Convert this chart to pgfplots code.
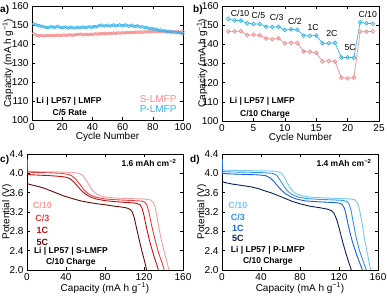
\documentclass[border=0pt]{standalone}
\usepackage{pgfplots}
\pgfplotsset{compat=1.18}
\usepackage{fontspec}
\setmainfont{Liberation Sans}
\definecolor{pinkc}{RGB}{245,140,140}
\definecolor{bluec}{RGB}{55,180,235}
\definecolor{cA}{RGB}{250,155,155}
\definecolor{cB}{RGB}{240,60,60}
\definecolor{cC}{RGB}{205,10,10}
\definecolor{cD}{RGB}{105,8,8}
\definecolor{dA}{RGB}{115,200,250}
\definecolor{dB}{RGB}{45,150,240}
\definecolor{dC}{RGB}{20,95,220}
\definecolor{dD}{RGB}{10,30,95}
\newcommand{\fl}{\fontsize{10}{12}\selectfont}
\newcommand{\fr}{\fontsize{8.7}{10}\selectfont}
\newcommand{\fb}{\bfseries\fontsize{8.5}{10}\selectfont}
\pgfplotsset{
  every axis/.append style={
    scale only axis,
    tick align=inside,
    major tick length=3pt,
    axis line style={line width=0.7pt},
    every tick/.style={black, line width=0.6pt},
    tick label style={font=\fl},
    label style={font=\fl},
    /pgf/number format/assume math mode=true,
    clip=true,
  },
}
\begin{document}
\begin{tikzpicture}
\path[use as bounding box] (0,0) rectangle (387pt,295pt);
% ---------------- panel a
\begin{axis}[at={(32pt,175pt)}, anchor=south west, width=151pt, height=114pt,
  xmin=0, xmax=100, ymin=100, ymax=160,
  xtick={0,20,...,100}, ytick={100,110,...,160},
  xlabel={Cycle Number}, ylabel={Capacity (mA h g\textsuperscript{−1})},
  xlabel style={at={(axis description cs:0.5,-0.15)}, anchor=center},
  ylabel style={at={(axis description cs:-0.16,0.5)}, anchor=center},
]
\addplot[only marks, mark=o, mark size=1.4pt, color=pinkc, line width=0.5pt] coordinates {
(1,145.6)(2,145.0)(3,144.6)(4,144.4)(5,144.3)(6,144.5)(7,144.3)(8,144.2)(9,144.4)(10,144.5)
(11,144.3)(12,144.4)(13,144.6)(14,144.4)(15,144.3)(16,144.5)(17,144.7)(18,144.5)(19,144.4)(20,144.6)
(21,144.8)(22,144.6)(23,144.5)(24,144.7)(25,144.9)(26,144.7)(27,144.6)(28,144.8)(29,145.0)(30,144.9)
(31,145.1)(32,145.3)(33,145.0)(34,144.8)(35,144.9)(36,145.1)(37,144.9)(38,145.0)(39,145.2)(40,145.0)
(41,145.2)(42,145.4)(43,145.2)(44,145.3)(45,145.5)(46,145.3)(47,145.4)(48,145.6)(49,145.4)(50,145.5)
(51,145.7)(52,145.5)(53,145.6)(54,145.8)(55,145.6)(56,145.7)(57,145.9)(58,145.7)(59,145.8)(60,146.0)
(61,145.8)(62,145.9)(63,146.1)(64,145.9)(65,146.0)(66,146.2)(67,146.0)(68,146.1)(69,146.3)(70,146.1)
(71,146.2)(72,146.4)(73,146.2)(74,146.3)(75,146.5)(76,146.3)(77,146.4)(78,146.6)(79,146.4)(80,146.5)
(81,146.6)(82,146.4)(83,146.5)(84,146.7)(85,146.5)(86,146.4)(87,146.6)(88,146.4)(89,146.3)(90,146.5)
(91,146.4)(92,146.3)(93,146.5)(94,146.4)(95,146.3)(96,146.5)(97,146.4)(98,146.3)(99,146.4)(100,146.5)
};
\addplot[only marks, mark=o, mark size=1.4pt, color=bluec, line width=0.5pt] coordinates {
(1,150.6)(2,150.3)(3,150.0)(4,149.8)(5,149.6)(6,149.4)(7,149.2)(8,149.0)(9,148.8)(10,148.7)
(11,148.6)(12,148.9)(13,149.2)(14,148.8)(15,148.6)(16,149.1)(17,149.4)(18,148.9)(19,148.6)(20,148.5)
(21,148.7)(22,149.0)(23,148.6)(24,148.4)(25,148.6)(26,148.9)(27,148.5)(28,148.4)(29,148.7)(30,148.9)
(31,148.6)(32,148.5)(33,148.8)(34,149.0)(35,148.7)(36,148.6)(37,148.9)(38,149.1)(39,148.8)(40,148.9)
(41,149.2)(42,149.0)(43,149.1)(44,149.5)(45,149.8)(46,150.0)(47,149.6)(48,149.4)(49,149.7)(50,150.0)
(51,149.6)(52,149.4)(53,149.8)(54,150.1)(55,149.7)(56,149.5)(57,149.8)(58,150.1)(59,149.8)(60,149.6)
(61,149.9)(62,150.1)(63,149.7)(64,149.4)(65,149.6)(66,149.9)(67,149.5)(68,149.2)(69,149.4)(70,149.6)
(71,149.2)(72,148.9)(73,149.1)(74,148.8)(75,148.5)(76,148.7)(77,148.4)(78,148.1)(79,148.3)(80,148.0)
(81,147.7)(82,147.9)(83,147.5)(84,147.2)(85,147.4)(86,147.0)(87,146.8)(88,147.0)(89,146.7)(90,146.5)
(91,146.7)(92,146.4)(93,146.2)(94,146.4)(95,146.1)(96,145.9)(97,146.1)(98,145.8)(99,145.6)(100,145.5)
};
\node[font=\fb] at (axis cs:24.5,110) {Li | LP57 | LMFP};
\node[font=\fb] at (axis cs:25,103.9) {C/5 Rate};
\node[font=\fl, text=pinkc, anchor=east] at (axis cs:98,110.9) {S-LMFP};
\node[font=\fl, text=bluec, anchor=east] at (axis cs:98,105.6) {P-LMFP};
\end{axis}
\node[font=\bfseries\fontsize{10}{12}\selectfont, anchor=west, inner sep=0pt] at (0pt,285pt) {a)};
% ---------------- panel b
\begin{axis}[at={(222pt,174pt)}, anchor=south west, width=157pt, height=115pt,
  xmin=0, xmax=25, ymin=100, ymax=160,
  xtick={0,5,...,25}, ytick={100,110,...,160},
  xlabel={Cycle Number}, ylabel={Capacity (mA h g\textsuperscript{−1})},
  xlabel style={at={(axis description cs:0.5,-0.15)}, anchor=center},
  ylabel style={at={(axis description cs:-0.127,0.5)}, anchor=center},
]
\addplot[mark=o, mark size=1.9pt, color=pinkc, line width=0.7pt, mark options={fill=white}] coordinates {
(1,146.7)(2,146.8)(3,146.9)(4,144.8)(5,145.0)(6,144.7)(7,143.1)(8,142.7)(9,143.2)(10,140.5)(11,140.8)(12,140.7)
(13,136.3)(14,136.1)(15,135.6)(16,131.1)(17,131.3)(18,131.0)(19,122.6)(20,122.3)(21,122.7)(22,146.6)(23,146.6)(24,146.8)
};
\addplot[mark=o, mark size=1.9pt, color=bluec, line width=0.7pt, mark options={fill=white}] coordinates {
(1,153.3)(2,152.5)(3,152.4)(4,151.0)(5,150.6)(6,150.6)(7,149.2)(8,149.0)(9,149.2)(10,147.5)(11,147.8)(12,147.6)
(13,144.5)(14,144.4)(15,144.6)(16,140.6)(17,140.6)(18,140.8)(19,133.1)(20,133.2)(21,133.0)(22,151.5)(23,151.0)(24,150.7)
};
\node[font=\fr] at (axis cs:2.87,156.3) {C/10};
\node[font=\fr] at (axis cs:5.8,155.3) {C/5};
\node[font=\fr] at (axis cs:8.7,154.3) {C/3};
\node[font=\fr] at (axis cs:11.6,152.2) {C/2};
\node[font=\fr] at (axis cs:14.5,149) {1C};
\node[font=\fr] at (axis cs:17.5,145.9) {2C};
\node[font=\fr] at (axis cs:20.4,138.1) {5C};
\node[font=\fr] at (axis cs:23.2,155.8) {C/10};
\node[font=\fb] at (axis cs:6.4,110.4) {Li | LP57 | LMFP};
\node[font=\fb] at (axis cs:6.85,103.7) {C/10 Charge};
\end{axis}
\node[font=\bfseries\fontsize{10}{12}\selectfont, anchor=west, inner sep=0pt] at (193pt,285pt) {b)};
% ---------------- panel c
\begin{axis}[at={(27pt,25pt)}, anchor=south west, width=156pt, height=116pt,
  xmin=0, xmax=160, ymin=2.0, ymax=4.4,
  xtick={0,40,...,160}, ytick={2.0,2.4,...,4.41},
  yticklabel style={/pgf/number format/.cd, fixed, fixed zerofill, precision=1},
  xlabel={Capacity (mA h g\textsuperscript{−1})}, ylabel={Potential (V)},
  xlabel style={at={(axis description cs:0.5,-0.155)}, anchor=center},
  ylabel style={at={(axis description cs:-0.13,0.5)}, anchor=center},
  every axis plot/.append style={line width=0.9pt},
]
\addplot[cA] coordinates {(0,4.30)(0.5,4.06)(2,4.04)(10,4.035)(20,4.03)(30,4.03)(40,4.025)(48,4.015)(53,4.0)(57,3.96)(60,3.88)(63,3.78)(66,3.68)(69,3.61)(72,3.565)(76,3.53)(82,3.505)(90,3.49)(100,3.48)(110,3.475)(118,3.47)(124,3.46)(127,3.445)(129.5,3.40)(131.5,3.30)(133,3.15)(135,2.90)(138,2.60)(141,2.35)(143.5,2.17)(145.6,2.0)};
\addplot[cB] coordinates {(0,4.25)(0.5,4.03)(5,4.02)(15,4.015)(25,4.01)(35,4.0)(42,3.98)(46,3.95)(50,3.88)(54,3.78)(58,3.67)(62,3.59)(66,3.54)(72,3.50)(80,3.47)(90,3.455)(100,3.445)(110,3.435)(118,3.425)(121,3.40)(123,3.34)(125,3.20)(127.5,2.95)(131,2.65)(135,2.35)(138.5,2.15)(140.8,2.0)};
\addplot[cC] coordinates {(0,4.22)(0.5,3.98)(5,3.97)(15,3.96)(25,3.95)(35,3.935)(40,3.92)(44,3.89)(48,3.82)(52,3.73)(56,3.64)(60,3.57)(65,3.51)(72,3.465)(80,3.435)(90,3.415)(100,3.40)(108,3.39)(113,3.375)(116,3.35)(118,3.28)(120,3.13)(122.5,2.88)(126,2.58)(130,2.3)(133,2.12)(134.7,2.0)};
\addplot[cD] coordinates {(0,3.79)(3,3.77)(8,3.745)(13,3.72)(18,3.69)(23,3.65)(28,3.61)(33,3.57)(38,3.53)(43,3.50)(48,3.47)(55,3.43)(63,3.40)(72,3.37)(80,3.35)(90,3.32)(98,3.30)(103,3.28)(106,3.25)(108,3.20)(110,3.08)(112,2.9)(115,2.63)(118,2.38)(121,2.15)(122.7,2.0)};
\node[font=\fb, anchor=east] at (axis cs:157,4.21) {1.6 mAh cm\textsuperscript{−2}};
\node[font=\bfseries\fontsize{9}{10}\selectfont, text=cA] at (axis cs:15.8,3.33) {C/10};
\node[font=\bfseries\fontsize{9}{10}\selectfont, text=cB] at (axis cs:15.8,3.075) {C/3};
\node[font=\bfseries\fontsize{9}{10}\selectfont, text=cC] at (axis cs:15.8,2.81) {1C};
\node[font=\bfseries\fontsize{9}{10}\selectfont, text=cD] at (axis cs:15.8,2.58) {5C};
\node[font=\fb] at (axis cs:45,2.38) {Li | LP57 | S-LMFP};
\node[font=\fb] at (axis cs:45,2.16) {C/10 Charge};
\end{axis}
\node[font=\bfseries\fontsize{10}{12}\selectfont, anchor=west, inner sep=0pt] at (0pt,135pt) {c)};
% ---------------- panel d
\begin{axis}[at={(222pt,25pt)}, anchor=south west, width=156pt, height=116pt,
  xmin=0, xmax=160, ymin=2.0, ymax=4.4,
  xtick={0,40,...,160}, ytick={2.0,2.4,...,4.41},
  yticklabel style={/pgf/number format/.cd, fixed, fixed zerofill, precision=1},
  xlabel={Capacity (mA h g\textsuperscript{−1})}, ylabel={Potential (V)},
  xlabel style={at={(axis description cs:0.5,-0.155)}, anchor=center},
  ylabel style={at={(axis description cs:-0.13,0.5)}, anchor=center},
  every axis plot/.append style={line width=0.9pt},
]
\addplot[dA] coordinates {(0,4.30)(0.5,4.08)(3,4.065)(15,4.06)(30,4.055)(45,4.05)(54,4.045)(58,4.03)(61,4.0)(64,3.92)(67,3.80)(70,3.70)(73,3.62)(77,3.57)(83,3.53)(92,3.505)(105,3.49)(120,3.48)(132,3.47)(136,3.455)(138.5,3.40)(140.5,3.30)(142,3.15)(144,2.92)(146.5,2.62)(149,2.35)(151,2.15)(152.5,2.0)};
\addplot[dB] coordinates {(0,4.28)(0.5,4.04)(5,4.03)(20,4.025)(35,4.02)(45,4.01)(52,4.0)(56,3.96)(59,3.88)(62,3.78)(65,3.69)(68,3.62)(72,3.56)(78,3.51)(86,3.48)(100,3.46)(115,3.45)(124,3.44)(128,3.42)(130.5,3.36)(132.5,3.22)(134.5,3.0)(137.5,2.68)(141,2.4)(144.5,2.2)(148,2.0)};
\addplot[dC] coordinates {(0,4.25)(0.5,4.0)(5,3.99)(20,3.98)(35,3.97)(42,3.96)(45,3.95)(49,3.91)(53,3.84)(57,3.74)(61,3.65)(65,3.58)(70,3.52)(76,3.47)(85,3.43)(100,3.41)(115,3.395)(120,3.385)(123,3.36)(125.5,3.28)(127.5,3.12)(130,2.88)(133.5,2.6)(137.5,2.35)(141,2.16)(144,2.0)};
\addplot[dD] coordinates {(0,3.83)(3,3.81)(10,3.78)(20,3.75)(30,3.72)(38,3.68)(45,3.63)(50,3.60)(55,3.56)(60,3.52)(66,3.47)(72,3.42)(80,3.37)(90,3.32)(100,3.29)(108,3.26)(112,3.23)(115,3.17)(117.5,3.05)(120,2.88)(123.5,2.6)(127,2.35)(130,2.16)(132.6,2.0)};
\node[font=\fb, anchor=east] at (axis cs:157,4.21) {1.4 mAh cm\textsuperscript{−2}};
\node[font=\bfseries\fontsize{9}{10}\selectfont, text=dA] at (axis cs:16.4,3.34) {C/10};
\node[font=\bfseries\fontsize{9}{10}\selectfont, text=dB] at (axis cs:16.4,3.10) {C/3};
\node[font=\bfseries\fontsize{9}{10}\selectfont, text=dC] at (axis cs:16.4,2.87) {1C};
\node[font=\bfseries\fontsize{9}{10}\selectfont, text=dD] at (axis cs:16.4,2.65) {5C};
\node[font=\fb] at (axis cs:47,2.41) {Li | LP57 | P-LMFP};
\node[font=\fb] at (axis cs:47,2.17) {C/10 Charge};
\end{axis}
\node[font=\bfseries\fontsize{10}{12}\selectfont, anchor=west, inner sep=0pt] at (190pt,135pt) {d)};
\end{tikzpicture}
\end{document}
